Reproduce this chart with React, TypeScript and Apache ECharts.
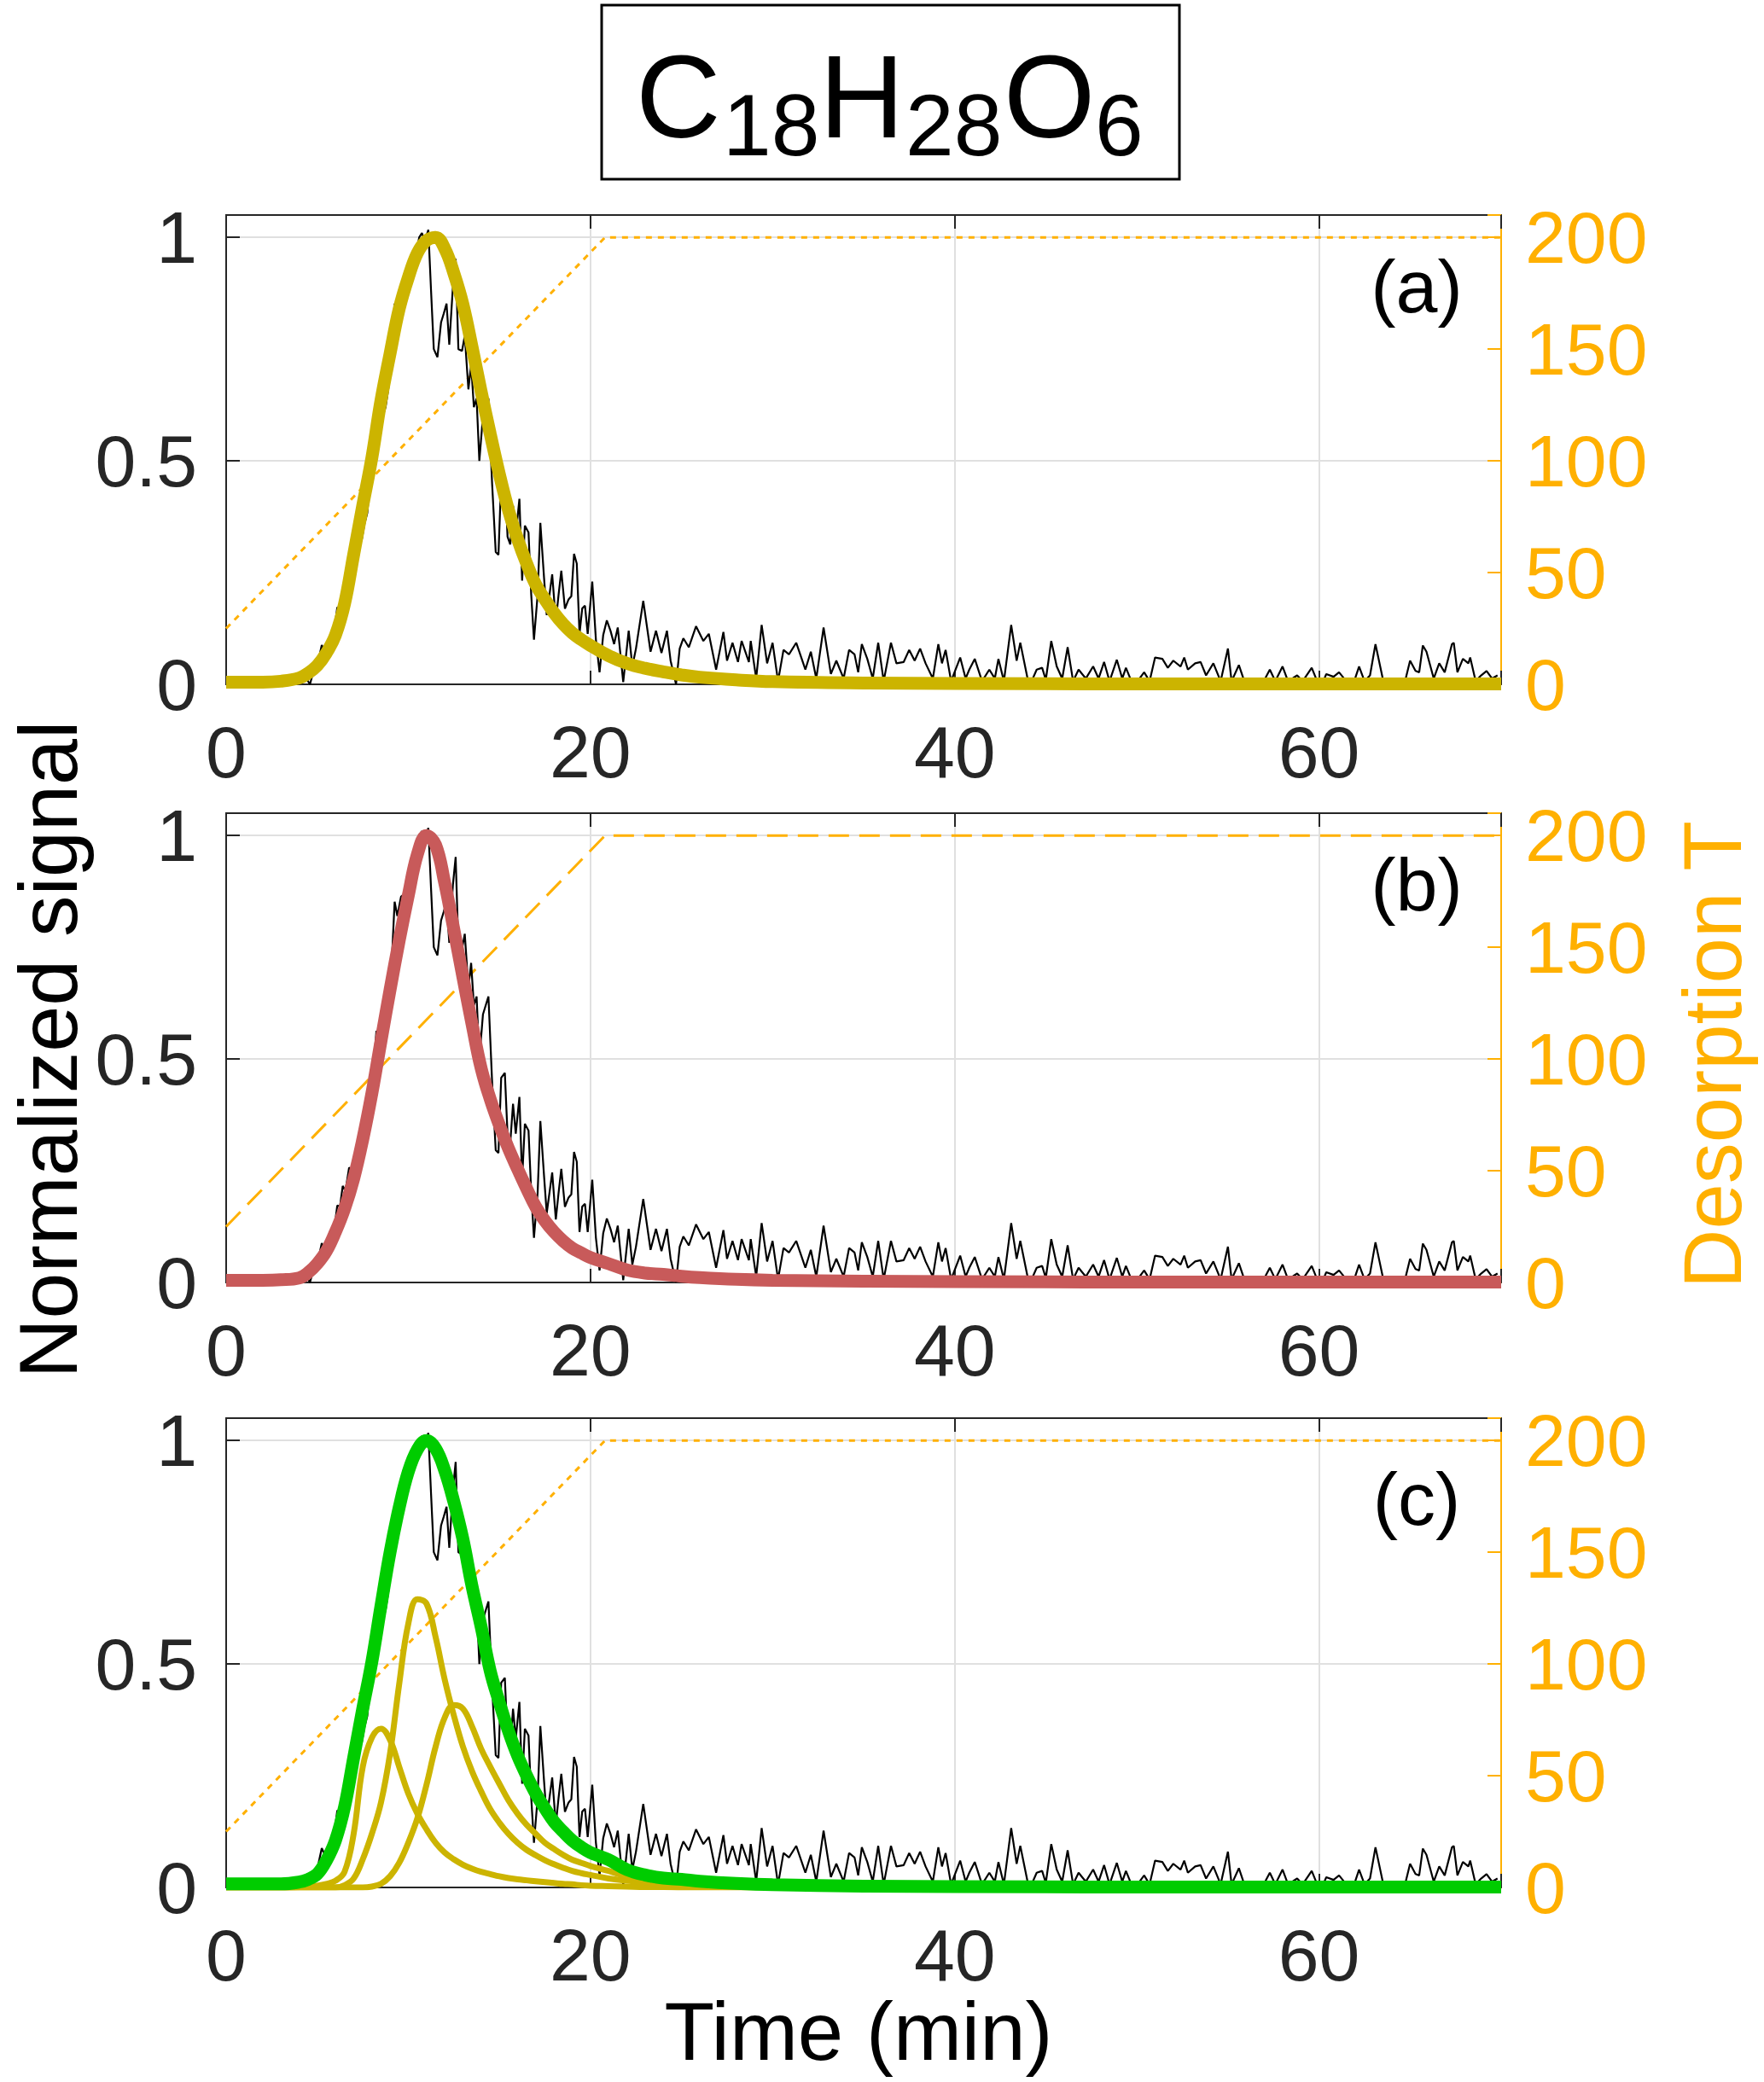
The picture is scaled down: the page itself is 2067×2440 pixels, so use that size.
import * as React from "react";
import * as echarts from "echarts";

// measured signal (normalized), time in min
const sigT = [
  0, 0.5, 1, 1.5, 2, 2.5, 3, 3.5, 4, 4.3, 4.6, 4.8, 5.05, 5.25, 5.45, 5.75, 6, 6.1, 6.25, 6.4,
  6.55, 6.75, 6.95, 7.2, 7.45, 7.6, 7.75, 7.9, 8.05, 8.25, 8.4, 8.6, 8.75, 8.9, 9.1, 9.25, 9.4, 9.6, 9.8, 10,
  10.2, 10.4, 10.6, 10.75, 10.9, 11.1, 11.25, 11.4, 11.6, 11.8, 11.95, 12.1, 12.25, 12.45, 12.6, 12.75, 12.95, 13.1, 13.3, 13.45,
  13.6, 13.75, 13.9, 14.1, 14.25, 14.4, 14.6, 14.8, 14.95, 15.1, 15.3, 15.45, 15.6, 15.75, 15.9, 16.1, 16.25, 16.4, 16.6, 16.75,
  16.9, 17.1, 17.25, 17.45, 17.6, 17.9, 18.1, 18.25, 18.4, 18.6, 18.8, 18.95, 19.1, 19.25, 19.4, 19.55, 19.7, 19.85, 20.1, 20.3,
  20.5, 20.7, 20.9, 21.1, 21.3, 21.5, 21.8, 22.1, 22.3, 22.5, 22.9, 23.3, 23.6, 23.9, 24.2, 24.4, 24.7, 24.9, 25.1, 25.4,
  25.8, 26.2, 26.5, 26.9, 27.3, 27.5, 27.8, 28.1, 28.3, 28.7, 28.8, 29.1, 29.4, 29.7, 30, 30.3, 30.6, 30.9, 31.3, 31.8,
  32.1, 32.4, 32.8, 33.2, 33.5, 33.9, 34.2, 34.5, 34.7, 34.9, 35.2, 35.5, 35.8, 36.1, 36.5, 36.8, 37.2, 37.5, 37.8, 38.1,
  38.4, 38.8, 39.1, 39.3, 39.5, 39.8, 40.3, 40.6, 40.8, 41.1, 41.5, 41.9, 42.2, 42.4, 42.7, 43.1, 43.4, 43.6, 44, 44.2,
  44.5, 44.8, 45, 45.3, 45.6, 45.9, 46.2, 46.5, 46.8, 47.2, 47.6, 47.9, 48.2, 48.5, 48.9, 49.2, 49.4, 49.7, 50, 50.4,
  50.7, 51, 51.4, 51.7, 52, 52.4, 52.6, 52.8, 53.2, 53.5, 53.8, 54.2, 54.6, 55, 55.2, 55.6, 55.9, 56.2, 56.5, 56.9,
  57.3, 57.6, 58, 58.3, 58.8, 59.1, 59.6, 59.9, 60.2, 60.4, 60.8, 61.1, 61.5, 61.9, 62.2, 62.5, 62.8, 63.1, 63.5, 63.9,
  64.3, 64.7, 65, 65.3, 65.5, 65.7, 65.9, 66.3, 66.6, 66.9, 67.3, 67.4, 67.6, 67.9, 68.2, 68.3, 68.6, 68.9, 69.2, 69.5,
  69.8,
];
const sigV = [
  0.004, 0, 0.006, 0.001, 0.007, 0.002, 0.006, 0, 0.01, 0.02, 0, 0.03, 0.05, 0.088, 0.07, 0.1, 0.14, 0.172, 0.17, 0.216,
  0.205, 0.257, 0.25, 0.313, 0.325, 0.36, 0.384, 0.458, 0.455, 0.563, 0.545, 0.6, 0.62, 0.66, 0.725, 0.852, 0.82, 0.863, 0.87, 0.9,
  0.93, 0.96, 1.0, 1.01, 0.99, 1.017, 0.88, 0.75, 0.732, 0.81, 0.83, 0.852, 0.76, 0.89, 0.952, 0.75, 0.746, 0.78, 0.66, 0.715,
  0.62, 0.64, 0.5, 0.6, 0.62, 0.64, 0.45, 0.296, 0.29, 0.458, 0.469, 0.33, 0.313, 0.4, 0.333, 0.415, 0.232, 0.355, 0.34, 0.2,
  0.1, 0.2, 0.361, 0.24, 0.155, 0.246, 0.141, 0.2, 0.254, 0.169, 0.19, 0.197, 0.292, 0.27, 0.113, 0.17, 0.176, 0.113, 0.23, 0.1,
  0.027, 0.11, 0.143, 0.12, 0.09, 0.127, 0.005, 0.12, 0.04, 0.08, 0.187, 0.073, 0.12, 0.07, 0.12, 0.053, 0, 0.08, 0.103, 0.083,
  0.13, 0.097, 0.113, 0.033, 0.117, 0.053, 0.093, 0.05, 0.097, 0.05, 0.097, 0.013, 0.133, 0.047, 0.093, 0.007, 0.077, 0.067, 0.093, 0.033,
  0.073, 0.013, 0.127, 0.023, 0.053, 0.013, 0.077, 0.067, 0.027, 0.09, 0.057, 0.013, 0.093, 0.007, 0.093, 0.047, 0.05, 0.077, 0.053, 0.08,
  0.047, 0.013, 0.09, 0.047, 0.077, 0.007, 0.06, 0.013, 0.033, 0.057, 0.007, 0.033, 0.013, 0.057, 0.007, 0.133, 0.053, 0.093, 0.013, 0.005,
  0.033, 0.037, 0.01, 0.097, 0.04, 0.013, 0.083, 0.007, 0.033, 0.013, 0.04, 0.013, 0.05, 0.007, 0.055, 0.013, 0.037, 0.007, 0.005, 0.027,
  0.007, 0.06, 0.057, 0.037, 0.053, 0.04, 0.06, 0.033, 0.047, 0.05, 0.02, 0.047, 0.007, 0.08, 0.007, 0.043, 0.007, 0.004, 0.007, 0.002,
  0.033, 0.007, 0.04, 0.007, 0.02, 0.007, 0.037, 0.007, 0.004, 0.023, 0.017, 0.027, 0.007, 0.003, 0.04, 0.007, 0.02, 0.09, 0.013, 0.007,
  0.007, 0.003, 0.053, 0.03, 0.027, 0.087, 0.073, 0.013, 0.047, 0.027, 0.09, 0.093, 0.027, 0.057, 0.047, 0.06, 0.007, 0.02, 0.03, 0.013,
  0.02,
];

// fitted curves, sampled on fitT
const fitT = [
  0, 1, 2, 3, 4, 4.5, 5, 5.5, 6, 6.5, 7, 7.5, 8, 8.5, 9, 9.5, 10, 10.5, 11, 11.5,
  12, 12.5, 13, 13.5, 14, 14.5, 15, 15.5, 16, 16.5, 17, 17.5, 18, 18.5, 19, 19.5, 20, 21, 22, 23,
  24, 25, 26, 28, 30, 35, 40, 50, 70,
];
const fitA = [
  0.005, 0.005, 0.005, 0.007, 0.014, 0.025, 0.042, 0.07, 0.11, 0.18, 0.29, 0.4, 0.507, 0.635, 0.74, 0.84, 0.91, 0.965, 0.993, 1.0,
  0.975, 0.92, 0.85, 0.755, 0.655, 0.56, 0.47, 0.39, 0.325, 0.27, 0.223, 0.19, 0.16, 0.135, 0.115, 0.1, 0.087, 0.064, 0.047, 0.036,
  0.028, 0.021, 0.016, 0.01, 0.006, 0.003, 0.002, 0.001, 0.001,
];
const fitB = [
  0.005, 0.005, 0.005, 0.006, 0.01, 0.022, 0.042, 0.07, 0.113, 0.165, 0.232, 0.32, 0.423, 0.54, 0.655, 0.765, 0.866, 0.958, 1.0, 0.979,
  0.894, 0.79, 0.683, 0.578, 0.479, 0.41, 0.352, 0.3, 0.254, 0.21, 0.169, 0.138, 0.113, 0.093, 0.077, 0.066, 0.056, 0.042, 0.028, 0.021,
  0.018, 0.014, 0.011, 0.007, 0.005, 0.003, 0.002, 0.001, 0.001,
];
const fitC = [
  0.008, 0.008, 0.008, 0.008, 0.012, 0.018, 0.03, 0.06, 0.105, 0.18, 0.29, 0.4, 0.505, 0.63, 0.75, 0.85, 0.93, 0.98, 1.0, 0.982,
  0.933, 0.863, 0.779, 0.674, 0.583, 0.484, 0.414, 0.35, 0.295, 0.25, 0.21, 0.177, 0.147, 0.125, 0.105, 0.09, 0.078, 0.062, 0.04, 0.028,
  0.021, 0.018, 0.014, 0.009, 0.006, 0.003, 0.002, 0.001, 0.001,
];
const comp1 = [
  0, 0, 0, 0, 0.001, 0.002, 0.004, 0.008, 0.015, 0.035, 0.12, 0.27, 0.335, 0.355, 0.33, 0.27, 0.21, 0.165, 0.13, 0.1,
  0.078, 0.063, 0.051, 0.042, 0.035, 0.03, 0.025, 0.021, 0.018, 0.016, 0.014, 0.012, 0.01, 0.008, 0.007, 0.005, 0.004, 0.003, 0.002, 0.001,
  0.001, 0, 0, 0, 0, 0, 0, 0, 0,
];
const comp2 = [
  0, 0, 0, 0, 0, 0, 0, 0, 0, 0.005, 0.02, 0.063, 0.12, 0.19, 0.3, 0.455, 0.59, 0.645, 0.635, 0.56,
  0.465, 0.385, 0.315, 0.26, 0.215, 0.175, 0.145, 0.12, 0.1, 0.084, 0.072, 0.061, 0.052, 0.044, 0.037, 0.032, 0.028, 0.02, 0.015, 0.011,
  0.008, 0.006, 0.005, 0.003, 0.002, 0.001, 0, 0, 0,
];
const comp3 = [
  0, 0, 0, 0, 0, 0, 0, 0, 0, 0, 0, 0, 0.002, 0.008, 0.025, 0.055, 0.1, 0.155, 0.23, 0.315,
  0.38, 0.408, 0.4, 0.36, 0.31, 0.27, 0.232, 0.195, 0.165, 0.14, 0.12, 0.1, 0.086, 0.073, 0.062, 0.055, 0.048, 0.037, 0.025, 0.018,
  0.013, 0.01, 0.007, 0.004, 0.002, 0.001, 0, 0, 0,
];

// desorption temperature programme
const tempT = [0, 20.8, 70];
const tempV = [25, 200, 200];

const xTicks = [0, 20, 40, 60];
const yTicks = [0, 0.5, 1];
const tTicks = [0, 50, 100, 150, 200];
const panelTags = ["(a)", "(b)", "(c)"];

const FONT = "'Liberation Sans', Arial, Helvetica, sans-serif";
const ORANGE = "#FFB000";
const INK = "#262626";
const OLIVE = "#CCB400";
const RED = "#C85A5A";
const GREEN = "#00CC00";

const zip = (xs: number[], ys: number[]) => xs.map((x, i) => [x, ys[i]]);

export default function App() {
  const ref = React.useRef<HTMLDivElement>(null);
  React.useEffect(() => {
    if (!ref.current) return;
    const chart = echarts.init(ref.current, undefined, { renderer: "svg" });

    const tops = [252, 953, 1662];
    const tagY = [335, 1036, 1756];
    const grids = tops.map(top => ({
      left: 265, top, width: 1494, height: 550,
      show: true, borderColor: INK, borderWidth: 2, backgroundColor: "#fff",
    }));

    const tick = (color: string) => ({ show: true, inside: true, length: 16, lineStyle: { color, width: 2 } });
    const axLine = (color: string) => ({ show: true, onZero: false, lineStyle: { color, width: 2 } });

    const xAxes: any[] = [];
    const yAxes: any[] = [];
    tops.forEach((_, i) => {
      xAxes.push({
        gridIndex: i, type: "value", min: 0, max: 70, interval: 20, position: "bottom",
        axisLine: axLine(INK), axisTick: tick(INK),
        axisLabel: {
          fontSize: 86, color: INK, fontFamily: FONT, margin: 36,
          formatter: (v: number) => (xTicks.includes(v) ? String(v) : ""),
        },
        splitLine: { show: true, lineStyle: { color: "#e0e0e0", width: 2 } },
      });
      xAxes.push({
        gridIndex: i, type: "value", min: 0, max: 70, interval: 20, position: "top",
        axisLine: axLine(INK), axisTick: tick(INK),
        axisLabel: { show: false },
        splitLine: { show: false },
      });
      yAxes.push({
        gridIndex: i, type: "value", position: "left", min: 0, max: 1.05, interval: 0.5,
        axisLine: axLine(INK), axisTick: tick(INK),
        axisLabel: {
          fontSize: 86, color: INK, fontFamily: FONT, margin: 34,
          formatter: (v: number) => (yTicks.includes(v) ? String(v) : ""),
        },
        splitLine: { show: true, lineStyle: { color: "#e0e0e0", width: 2 } },
      });
      yAxes.push({
        gridIndex: i, type: "value", position: "right", min: 0, max: 210, interval: 50,
        axisLine: axLine(ORANGE), axisTick: tick(ORANGE),
        axisLabel: {
          fontSize: 86, color: ORANGE, fontFamily: FONT, margin: 28,
          formatter: (v: number) => (tTicks.includes(v) ? String(v) : ""),
        },
        splitLine: { show: false },
      });
    });

    const line = (i: number, right: boolean, data: number[][], color: string, width: number, extra: any = {}) => ({
      type: "line", xAxisIndex: 2 * i, yAxisIndex: 2 * i + (right ? 1 : 0), data,
      showSymbol: false, symbol: "none", clip: true,
      lineStyle: { color, width, ...(extra.lineStyle || {}) },
      smooth: extra.smooth ?? false,
      z: extra.z ?? 2,
    });

    const signal = zip(sigT, sigV);
    const temp = zip(tempT, tempV);
    const dotted = [7, 7];
    const dashed = [24, 12];

    const series: any[] = [
      line(0, true, temp, ORANGE, 3, { lineStyle: { type: dotted } }),
      line(0, false, signal, "#000", 2.2),
      line(0, false, zip(fitT, fitA), OLIVE, 15, { smooth: 0.4, z: 3 }),

      line(1, true, temp, ORANGE, 3, { lineStyle: { type: dashed } }),
      line(1, false, signal, "#000", 2.2),
      line(1, false, zip(fitT, fitB), RED, 15, { smooth: 0.4, z: 3 }),

      line(2, true, temp, ORANGE, 3, { lineStyle: { type: dotted } }),
      line(2, false, signal, "#000", 2.2),
      line(2, false, zip(fitT, comp1), OLIVE, 7, { smooth: 0.4, z: 3 }),
      line(2, false, zip(fitT, comp2), OLIVE, 7, { smooth: 0.4, z: 3 }),
      line(2, false, zip(fitT, comp3), OLIVE, 7, { smooth: 0.4, z: 3 }),
      line(2, false, zip(fitT, fitC), GREEN, 15, { smooth: 0.4, z: 4 }),
    ];

    const txt = (text: string, x: number, y: number, size: number, fill = "#000", extra: any = {}) => ({
      type: "text", x, y, z: 100, ...extra,
      style: {
        text, fontSize: size, fontFamily: FONT, fill, lineHeight: size,
        align: extra.align ?? "center", verticalAlign: "middle",
      },
    });

    const graphic: any[] = [
      { type: "rect", shape: { x: 705, y: 6, width: 677, height: 204 }, style: { fill: "#fff", stroke: "#000", lineWidth: 3 }, z: 90 },
      txt("C", 745, 113, 138, "#000", { align: "left" }),
      txt("18", 847, 147, 102, "#000", { align: "left" }),
      txt("H", 960, 113, 138, "#000", { align: "left" }),
      txt("28", 1061, 147, 102, "#000", { align: "left" }),
      txt("O", 1176, 113, 138, "#000", { align: "left" }),
      txt("6", 1283, 147, 102, "#000", { align: "left" }),
      ...panelTags.map((t, i) => txt(t, 1660, tagY[i], 88)),
      txt("Time (min)", 1006, 2380, 96),
      txt("Normalized signal", 56, 1230, 97, "#000", { rotation: Math.PI / 2 }),
      txt("Desorption T", 2006, 1236, 96, ORANGE, { rotation: Math.PI / 2 }),
    ];

    chart.setOption({
      animation: false,
      backgroundColor: "#fff",
      grid: grids,
      xAxis: xAxes,
      yAxis: yAxes,
      series,
      graphic,
    });
    return () => chart.dispose();
  }, []);
  return <div ref={ref} style={{ position: "absolute", left: 0, top: 0, width: 2067, height: 2440 }} />;
}
